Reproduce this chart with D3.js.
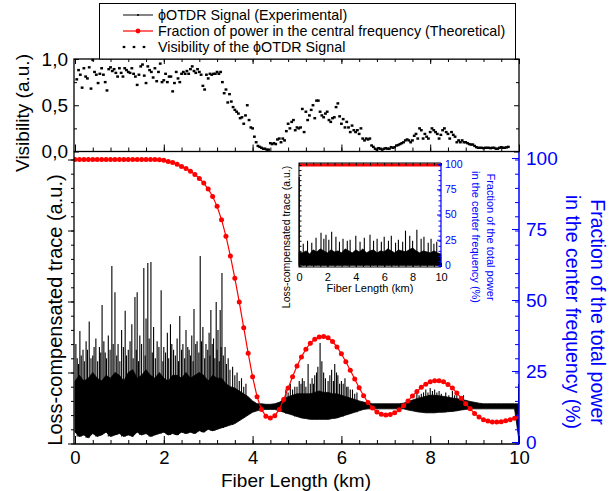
<!DOCTYPE html>
<html>
<head>
<meta charset="utf-8">
<script src="https://cdn.jsdelivr.net/npm/d3@7"></script>
<style>
body { margin: 0; background: #fff; }
svg { display: block; font-family: "Liberation Sans", Arial, sans-serif; }
</style>
</head>
<body>
<div id="chart"></div>
<script>
// fraction of power in the central frequency (%), one value every 0.1 km
const powerStep = 0.1;
const powerFraction = [
    100, 100, 100, 100, 100, 100, 100, 100, 100, 100,
    100, 100, 100, 100, 100, 100, 100, 100, 100, 99.9,
    99.7, 99.3, 98.9, 98.3, 97.5, 96.8, 95.9, 94.7, 93.3, 91.7,
    89.6, 87, 83.5, 78.8, 73, 66, 58.2, 49.8, 40.8, 31.8,
    23.5, 16.5, 12, 9.6, 9, 9.8, 12, 15.5, 19.5, 23.5,
    27.3, 30.5, 33.2, 35.3, 36.7, 37.5, 37.7, 37.2, 35.9, 34,
    31.6, 28.8, 25.8, 22.7, 19.6, 16.8, 14.4, 12.5, 11.1, 10.3,
    10, 10.2, 10.8, 11.9, 13.3, 15, 16.7, 18.3, 19.8, 20.9,
    21.7, 22.1, 22.1, 21.7, 20.8, 19.5, 17.8, 15.9, 14, 12.2,
    10.6, 9.3, 8.4, 7.9, 7.6, 7.6, 7.7, 8, 8.4, 8.9, 9.5
];

// visibility of the phi-OTDR signal, one value every 0.04 km from 0.04 km
const visStart = 0.04;
const visStep = 0.04;
const visibility = [
    0.78, 0.88, 0.83, 0.69, 0.90, 0.81, 0.79, 0.91, 0.68, 0.99, 0.86, 0.83, 0.74, 0.84, 0.90, 0.83, 0.75, 0.66, 0.89, 0.91, 0.87, 0.89, 0.85, 0.81, 0.90,
    0.85, 0.81, 0.90, 0.88, 0.86, 0.85, 0.90, 0.84, 0.81, 0.72, 0.83, 0.92, 0.94, 0.82, 0.74, 0.92, 0.88, 0.86, 0.80, 0.90, 0.76, 0.86, 0.95, 0.75, 0.77,
    0.84, 0.75, 0.81, 0.81, 0.65, 0.74, 0.86, 0.79, 0.75, 0.84, 0.86, 0.84, 0.87, 0.84, 0.89, 0.92, 0.87, 0.85, 0.89, 0.86, 0.83, 0.71, 0.67, 0.83, 0.79,
    0.84, 0.83, 0.84, 0.84, 0.86, 0.84, 0.86, 0.75, 0.63, 0.67, 0.53, 0.62, 0.54, 0.48, 0.45, 0.43, 0.41, 0.36, 0.37, 0.30, 0.39, 0.50, 0.34, 0.26, 0.25,
    0.16, 0.10, 0.06, 0.05, 0.04, 0.03, 0.03, 0.02, 0.02, 0.09, 0.08, 0.09, 0.08, 0.13, 0.14, 0.10, 0.14, 0.12, 0.22, 0.30, 0.25, 0.32, 0.34, 0.23, 0.26,
    0.25, 0.26, 0.46, 0.21, 0.43, 0.34, 0.39, 0.45, 0.50, 0.36, 0.55, 0.55, 0.43, 0.39, 0.37, 0.41, 0.43, 0.34, 0.32, 0.36, 0.37, 0.48, 0.52, 0.38, 0.30,
    0.35, 0.26, 0.32, 0.26, 0.21, 0.28, 0.23, 0.21, 0.23, 0.19, 0.25, 0.14, 0.12, 0.14, 0.13, 0.14, 0.065, 0.05, 0.03, 0.02, 0.036, 0.03, 0.02, 0.03, 0.036,
    0.03, 0.03, 0.047, 0.04, 0.047, 0.065, 0.07, 0.08, 0.09, 0.10, 0.12, 0.13, 0.12, 0.10, 0.12, 0.17, 0.19, 0.14, 0.25, 0.23, 0.14, 0.19, 0.16, 0.14, 0.21,
    0.25, 0.23, 0.21, 0.19, 0.14, 0.18, 0.23, 0.25, 0.21, 0.19, 0.14, 0.21, 0.18, 0.16, 0.10, 0.12, 0.10, 0.12, 0.10, 0.10, 0.09, 0.08, 0.075, 0.075, 0.06,
    0.047, 0.04, 0.04, 0.04, 0.036, 0.04, 0.04, 0.04, 0.036, 0.04, 0.04, 0.03, 0.03, 0.04, 0.047, 0.04, 0.04, 0.045, 0.05
];

// loss-compensated trace envelope (a.u.), one value every 0.1 km
const traceStep = 0.1;
const traceHi = [
    22, 24, 22, 23, 25, 23, 22, 24, 23, 25, 24, 22, 25, 26, 23, 24, 26, 24, 23, 25,
    23, 22, 24, 24, 23, 25, 23, 24, 25, 24, 22, 24, 23, 23, 21,
    20, 19.5, 18.5, 17.5, 16.5, 15, 14, 14, 13.8, 13.8,
    14, 14.5, 15.5, 16.5, 17, 17.5, 17.5, 17.5, 17.5, 18,
    18.5, 18, 18, 17.5, 17.5, 17, 16.5, 16, 15.5, 15,
    14.6, 14.2, 14, 14, 14, 14, 14, 14, 14, 14.2,
    14.8, 15.3, 15.8, 16.2, 16.6, 17, 17, 16.8, 16.6, 16.3,
    16, 15.8, 15.5, 15.2, 14.8, 14.5, 14.2, 14, 14, 14,
    14, 14, 14, 14, 14, 14
];
const traceLo = [
    4, 2.5, 3, 2, 3.5, 2.5, 3, 4, 2.5, 3, 3.5, 2.5, 3, 2.5, 4, 3, 3.5, 2.5, 3, 3.5,
    4, 3, 3.5, 3, 4, 3.5, 4, 3.5, 4.5, 4, 5, 4.5, 5, 5.5, 6,
    6.5, 7, 8, 9, 10, 11, 11.5, 12, 12, 12,
    12, 11.5, 11, 10.5, 10, 9.5, 9, 8.8, 8.5, 8.5,
    8.5, 8.5, 8.5, 8.8, 9, 9.5, 10, 10.5, 11, 11.5,
    12, 12.2, 12.2, 12.2, 12.2, 12.2, 12.2, 12.2, 12.2, 12.2,
    11.8, 11.5, 11.2, 11, 10.8, 10.8, 10.8, 11, 11, 11.2,
    11.3, 11.5, 11.8, 12, 12.2, 12.2, 12.2, 12.2, 12.2, 12.2,
    12.2, 12.2, 12.2, 12.2, 12.2, 1
];
// spikes of the trace: position (km) and peak (a.u.)
const spikeKm = [
    0.02, 0.11, 0.18, 0.25, 0.32, 0.40, 0.47, 0.55, 0.61, 0.68, 0.75, 0.83, 0.90, 0.97,
    1.05, 1.13, 1.20, 1.28, 1.35, 1.40, 1.46, 1.55, 1.60, 1.64, 1.71, 1.77, 1.85, 1.94,
    2.00, 2.08, 2.15, 2.22, 2.30, 2.36, 2.43, 2.50, 2.57, 2.63, 2.68, 2.75, 2.82, 2.88, 2.95,
    3.02, 3.06, 3.12, 3.18, 3.22, 3.27, 3.31, 3.38, 3.45, 3.55, 3.65, 3.75, 3.85,
    0.05, 0.08, 0.14, 0.21, 0.28, 0.36, 0.43, 0.51, 0.58, 0.65, 0.71, 0.79, 0.86, 0.94,
    1.01, 1.09, 1.16, 1.24, 1.31, 1.38, 1.43, 1.50, 1.58, 1.67, 1.74, 1.81, 1.89, 1.98,
    2.04, 2.11, 2.18, 2.26, 2.33, 2.40, 2.47, 2.54, 2.60, 2.66, 2.72, 2.79, 2.85, 2.92, 2.99,
    3.04, 3.09, 3.15, 3.20, 3.25, 3.29, 3.34, 3.41, 3.49, 3.60, 3.70, 3.80,
    4.75, 4.80, 4.85, 4.90, 4.95, 5.00, 5.05, 5.09, 5.12, 5.16, 5.20, 5.25, 5.30, 5.34, 5.37,
    5.40, 5.44, 5.47, 5.52, 5.56, 5.60, 5.64, 5.70, 5.74, 5.78, 5.82, 5.85, 5.89, 5.92, 5.96,
    6.00, 6.04, 6.08, 6.12, 6.15, 6.20, 6.25, 6.30, 6.35,
    7.70, 7.75, 7.80, 7.85, 7.90, 7.95, 8.00, 8.05, 8.10, 8.15, 8.20, 8.25, 8.35, 8.42,
    8.50, 8.55, 8.60, 8.75, 9.99
];
const spikeTop = [
    35, 39.6, 33, 36, 43, 31, 37, 34, 48.8, 32, 38, 62.5, 53.3, 35,
    40, 46.7, 33, 42, 51.6, 53.3, 38, 61.8, 44, 63.6, 63.9, 41, 36, 54,
    34, 39, 42, 33, 37, 44.9, 35, 40, 33, 38, 47.4, 36, 66, 41, 35,
    39, 47, 37, 49.8, 40, 47, 60, 34, 30, 27, 25, 23, 21,
    30, 28, 31, 29, 33, 30, 34, 29, 32, 36, 30, 33, 35, 31,
    29, 34, 31, 36, 30, 33, 29, 35, 31, 37, 32, 30, 34, 29,
    32, 30, 35, 31, 29, 33, 30, 34, 31, 29, 35, 32, 36, 30, 33,
    31, 35, 30, 33, 29, 34, 31, 28, 26, 24, 22, 20,
    19, 18, 21, 19, 20, 20, 22, 21, 23, 22, 20, 28, 21, 23, 21,
    24, 25, 27, 35.4, 29, 25, 23, 22, 24, 26, 22, 28, 25, 24, 21,
    22, 21, 23, 20, 20, 19, 19, 17.5, 18,
    18, 17, 17.5, 18, 19, 18, 19.5, 18.5, 19, 18, 18.5, 17.5, 18, 17,
    18.5, 17, 17.5, 17, 21
];

// inset: trace with the other laser, one value every 0.25 km
const insetStep = 0.25;
const insetHi = [
    14, 13, 15, 12, 16, 14, 17, 15, 13, 16, 14, 15, 13, 17, 15, 13, 16, 14, 17, 13,
    15, 16, 13, 15, 14, 17, 15, 13, 16, 15, 14, 16, 18, 15, 13, 15, 14, 13, 15, 13, 12
];
const insetSpikeKm = [
    0.02, 0.3, 0.6, 0.9, 1.2, 1.55, 1.75, 1.9, 2.1, 2.3, 2.6, 2.85, 3.1, 3.4, 3.6, 4.0, 4.3,
    4.6, 5.0, 5.25, 5.5, 5.8, 6.0, 6.3, 6.5, 6.8, 7.0, 7.3, 7.5, 7.8, 8.0, 8.3, 8.6, 8.8,
    9.1, 9.3, 9.5, 9.7
];
const insetSpikeTop = [
    88, 22, 25, 23, 28, 33, 27, 31, 26, 34, 29, 24, 27, 25, 26, 30, 24,
    28, 31, 25, 27, 24, 29, 25, 30, 23, 26, 24, 35, 30, 25, 36, 27, 29,
    23, 27, 22, 24
];
const insetPowerKm = [0, 10];
const insetPower = [100, 100];

const xTicks = [0, 2, 4, 6, 8, 10];
const powTicks = [0, 25, 50, 75, 100];
const visTicks = [0, 0.5, 1];

const LegendData = [
    { label: "\u03d5OTDR Signal (Experimental)", kind: "trace" },
    { label: "Fraction of power in the central frequency (Theoretical)", kind: "power" },
    { label: "Visibility of the \u03d5OTDR Signal", kind: "vis" },
];

const Blue = "#0000ff";
const Red = "#ff0000";

const svg = d3.select("#chart").append("svg")
    .attr("width", 616)
    .attr("height", 491);

svg.append("rect").attr("width", 616).attr("height", 491).attr("fill", "#fff");

const x = d3.scaleLinear().domain([0, 10]).range([75, 519]);
const yVis = d3.scaleLinear().domain([0, 1]).range([151.5, 59]);
const yPow = d3.scaleLinear().domain([0, 100]).range([443.5, 159.5]);
const yTrace = yPow.copy();

const xi = d3.scaleLinear().domain([0, 10]).range([299, 441]);
const yi = d3.scaleLinear().domain([0, 100]).range([266, 165]);

const minorX = d3.range(0, 26).map(i => i * 0.4);
const minorPow = d3.range(0, 21).map(i => i * 5);

function drawAxis(axis, tx, ty, color, size) {
    const g = svg.append("g")
        .attr("transform", `translate(${tx},${ty})`)
        .call(axis);
    g.select(".domain").remove();
    g.selectAll("line").attr("stroke", color);
    g.selectAll("text").attr("fill", color);
    g.attr("font-size", size || 19).attr("font-family", null);
    return g;
}

// ---- main panel: trace
const defs = svg.append("defs");
defs.append("clipPath").attr("id", "mainClip")
    .append("rect").attr("x", 74).attr("y", 151.5).attr("width", 445).attr("height", 292.5);

const main = svg.append("g").attr("clip-path", "url(#mainClip)");

const traceArea = d3.area()
    .x((d, i) => x(i * traceStep))
    .y0((d, i) => yTrace(traceLo[i]))
    .y1((d, i) => yTrace(traceHi[i]));

main.append("path")
    .datum(traceHi)
    .attr("d", traceArea)
    .attr("fill", "#000")
    .attr("stroke", "#000")
    .attr("stroke-width", 0.8);

main.selectAll("line.spike")
    .data(spikeKm)
    .enter().append("line")
        .attr("class", "spike")
        .attr("x1", d => x(d))
        .attr("x2", d => x(d))
        .attr("y1", d => yTrace(Math.min(traceLo[Math.round(d / traceStep)], 12) - (d > 9.9 ? 11 : 0)))
        .attr("y2", (d, i) => yTrace(spikeTop[i]))
        .attr("stroke", "#000")
        .attr("stroke-width", 1.1);

// ---- main panel: theoretical power fraction
const powerLine = d3.line()
    .x((d, i) => x(i * powerStep))
    .y(d => yPow(d));

main.append("path")
    .datum(powerFraction)
    .attr("d", powerLine)
    .attr("fill", "none")
    .attr("stroke", Red)
    .attr("stroke-width", 1.2);

main.selectAll("circle.pow")
    .data(powerFraction)
    .enter().append("circle")
        .attr("class", "pow")
        .attr("cx", (d, i) => x(i * powerStep))
        .attr("cy", d => yPow(d))
        .attr("r", 2.5)
        .attr("fill", Red);

// ---- top panel: visibility
svg.append("g").selectAll("rect")
    .data(visibility)
    .enter().append("rect")
        .attr("x", (d, i) => x(visStart + i * visStep) - 1.4)
        .attr("y", d => yVis(d) - 1.2)
        .attr("width", 2.8)
        .attr("height", 2.4)
        .attr("fill", "#000");

// ---- frames
svg.append("rect")
    .attr("x", 74).attr("y", 59).attr("width", 445).attr("height", 92.5)
    .attr("fill", "none").attr("stroke", "#000").attr("stroke-width", 1.3);
svg.append("line").attr("x1", 74).attr("x2", 74).attr("y1", 151.5).attr("y2", 444)
    .attr("stroke", "#000").attr("stroke-width", 1.3);
svg.append("line").attr("x1", 74).attr("x2", 519).attr("y1", 444).attr("y2", 444)
    .attr("stroke", "#000").attr("stroke-width", 1.3);
svg.append("line").attr("x1", 519).attr("x2", 519).attr("y1", 151.5).attr("y2", 444.5)
    .attr("stroke", Blue).attr("stroke-width", 1.5);

// ---- top panel axes
drawAxis(d3.axisLeft(yVis).tickValues(visTicks).tickSizeInner(-5).tickSizeOuter(0).tickPadding(6)
    .tickFormat(d => d3.format(".1f")(d).replace(".", ",")), 74, 0, "#000");
drawAxis(d3.axisLeft(yVis).tickValues([0.25, 0.75]).tickSize(-3).tickFormat(""), 74, 0, "#000");
drawAxis(d3.axisRight(yVis).tickValues(visTicks).tickSize(-5).tickFormat(""), 519, 0, "#000");
drawAxis(d3.axisRight(yVis).tickValues([0.25, 0.75]).tickSize(-3).tickFormat(""), 519, 0, "#000");
drawAxis(d3.axisTop(x).tickValues(minorX).tickSize(-3).tickFormat(""), 0, 59, "#000");
drawAxis(d3.axisTop(x).tickValues(xTicks).tickSize(-5).tickFormat(""), 0, 59, "#000");
drawAxis(d3.axisBottom(x).tickValues(minorX).tickSize(-4).tickFormat(""), 0, 151.5, "#000");
drawAxis(d3.axisBottom(x).tickValues(xTicks).tickSize(-7).tickFormat(""), 0, 151.5, "#000");

// ---- main panel axes
drawAxis(d3.axisBottom(x).tickValues(xTicks).tickSizeInner(-8).tickSizeOuter(0).tickPadding(7), 0, 444, "#000", 18.5);
drawAxis(d3.axisBottom(x).tickValues(minorX).tickSize(-4).tickFormat(""), 0, 444, "#000");
drawAxis(d3.axisLeft(yTrace).tickValues(powTicks).tickSize(6).tickFormat(""), 74, 0, "#000");
drawAxis(d3.axisLeft(yTrace).tickValues(minorPow).tickSize(3).tickFormat(""), 74, 0, "#000");
drawAxis(d3.axisRight(yPow).tickValues(powTicks).tickSizeInner(-7).tickSizeOuter(0).tickPadding(7), 519, -1.5, Blue);
drawAxis(d3.axisRight(yPow).tickValues(minorPow).tickSize(-4).tickFormat(""), 519, 0, Blue);

// ---- axis titles
svg.append("text")
    .attr("transform", "translate(29,113) rotate(-90)")
    .attr("text-anchor", "middle").attr("font-size", 19)
    .text("Visibility (a.u.)");
svg.append("text")
    .attr("transform", "translate(62,310) rotate(-90)")
    .attr("text-anchor", "middle").attr("font-size", 20)
    .text("Loss-compensated trace (a.u.)");
svg.append("text")
    .attr("x", 296).attr("y", 486.5)
    .attr("text-anchor", "middle").attr("font-size", 19)
    .text("Fiber Length (km)");
svg.append("text")
    .attr("transform", "translate(591,312) rotate(90)")
    .attr("text-anchor", "middle").attr("font-size", 19.5).attr("fill", Blue)
    .text("Fraction of the total power");
svg.append("text")
    .attr("transform", "translate(566,312) rotate(90)")
    .attr("text-anchor", "middle").attr("font-size", 19.5).attr("fill", Blue)
    .text("in the center frequency (%)");

// ---- inset
svg.append("rect")
    .attr("x", 299).attr("y", 163).attr("width", 142).attr("height", 104)
    .attr("fill", "#fff");

const insetArea = d3.area()
    .x((d, i) => xi(i * insetStep))
    .y0(yi(0.5))
    .y1(d => yi(d));

svg.append("path")
    .datum(insetHi)
    .attr("d", insetArea)
    .attr("fill", "#000")
    .attr("stroke", "#000")
    .attr("stroke-width", 0.6);

svg.selectAll("line.ispike")
    .data(insetSpikeKm)
    .enter().append("line")
        .attr("class", "ispike")
        .attr("x1", d => xi(d))
        .attr("x2", d => xi(d))
        .attr("y1", yi(0.5))
        .attr("y2", (d, i) => yi(insetSpikeTop[i]))
        .attr("stroke", "#000")
        .attr("stroke-width", 1.1);

svg.append("path")
    .datum(insetPower)
    .attr("d", d3.line().x((d, i) => xi(insetPowerKm[i])).y(d => yi(d)))
    .attr("stroke", Red)
    .attr("stroke-width", 3)
    .attr("fill", "none");

svg.append("path")
    .attr("d", "M441,163H299V267H441")
    .attr("fill", "none").attr("stroke", "#000").attr("stroke-width", 1.1);
svg.append("line").attr("x1", 441).attr("x2", 441).attr("y1", 163).attr("y2", 267)
    .attr("stroke", Blue).attr("stroke-width", 1.2);

const minorXi = d3.range(0, 21).map(i => i * 0.5);
drawAxis(d3.axisBottom(xi).tickValues(xTicks).tickSizeInner(-4).tickSizeOuter(0).tickPadding(6), 0, 267, "#000", 11);
drawAxis(d3.axisBottom(xi).tickValues(minorXi).tickSize(-2.5).tickFormat(""), 0, 267, "#000");
drawAxis(d3.axisTop(xi).tickValues(minorXi).tickSize(-2.5).tickFormat(""), 0, 163, "#000");
drawAxis(d3.axisLeft(yi).tickValues(minorPow).tickSize(-2.5).tickFormat(""), 299, 0, "#000");
drawAxis(d3.axisRight(yi).tickValues(powTicks).tickSizeInner(-4).tickSizeOuter(0).tickPadding(4), 441, -1, Blue, 10.5);
drawAxis(d3.axisRight(yi).tickValues(minorPow).tickSize(-2.5).tickFormat(""), 441, 0, Blue);

svg.append("text")
    .attr("transform", "translate(290,237) rotate(-90)")
    .attr("text-anchor", "middle").attr("font-size", 10.5)
    .text("Loss-compensated trace (a.u.)");
svg.append("text")
    .attr("x", 370).attr("y", 292)
    .attr("text-anchor", "middle").attr("font-size", 11)
    .text("Fiber Length (km)");
svg.append("text")
    .attr("transform", "translate(487,237) rotate(90)")
    .attr("text-anchor", "middle").attr("font-size", 11).attr("fill", Blue)
    .text("Fraction of the total power");
svg.append("text")
    .attr("transform", "translate(472,237) rotate(90)")
    .attr("text-anchor", "middle").attr("font-size", 11).attr("fill", Blue)
    .text("in the center frequency (%)");

// ---- legend
const legend = svg.append("g");
legend.append("rect")
    .attr("x", 99.5).attr("y", 3.5).attr("width", 416).attr("height", 55.5)
    .attr("fill", "#fff").attr("stroke", "#000").attr("stroke-width", 1);

const legendItems = legend.selectAll("g.item")
    .data(LegendData)
    .enter().append("g")
        .attr("class", "item")
        .attr("transform", (d, i) => `translate(0,${15 + i * 16})`);

legendItems.filter(d => d.kind !== "vis").append("line")
    .attr("x1", 123).attr("x2", 153)
    .attr("stroke", d => d.kind === "power" ? Red : "#333")
    .attr("stroke-width", 1.2);
legendItems.filter(d => d.kind !== "vis").append("circle")
    .attr("cx", 138)
    .attr("r", d => d.kind === "power" ? 2.4 : 1)
    .attr("fill", d => d.kind === "power" ? Red : "#000");
legendItems.filter(d => d.kind === "vis").selectAll("rect")
    .data([124, 134, 144])
    .enter().append("rect")
        .attr("x", d => d - 1.3).attr("y", -1.1)
        .attr("width", 2.6).attr("height", 2.2)
        .attr("fill", "#000");
legendItems.append("text")
    .attr("x", 158).attr("y", 5)
    .attr("font-size", 14.3)
    .text(d => d.label);
</script>
</body>
</html>
